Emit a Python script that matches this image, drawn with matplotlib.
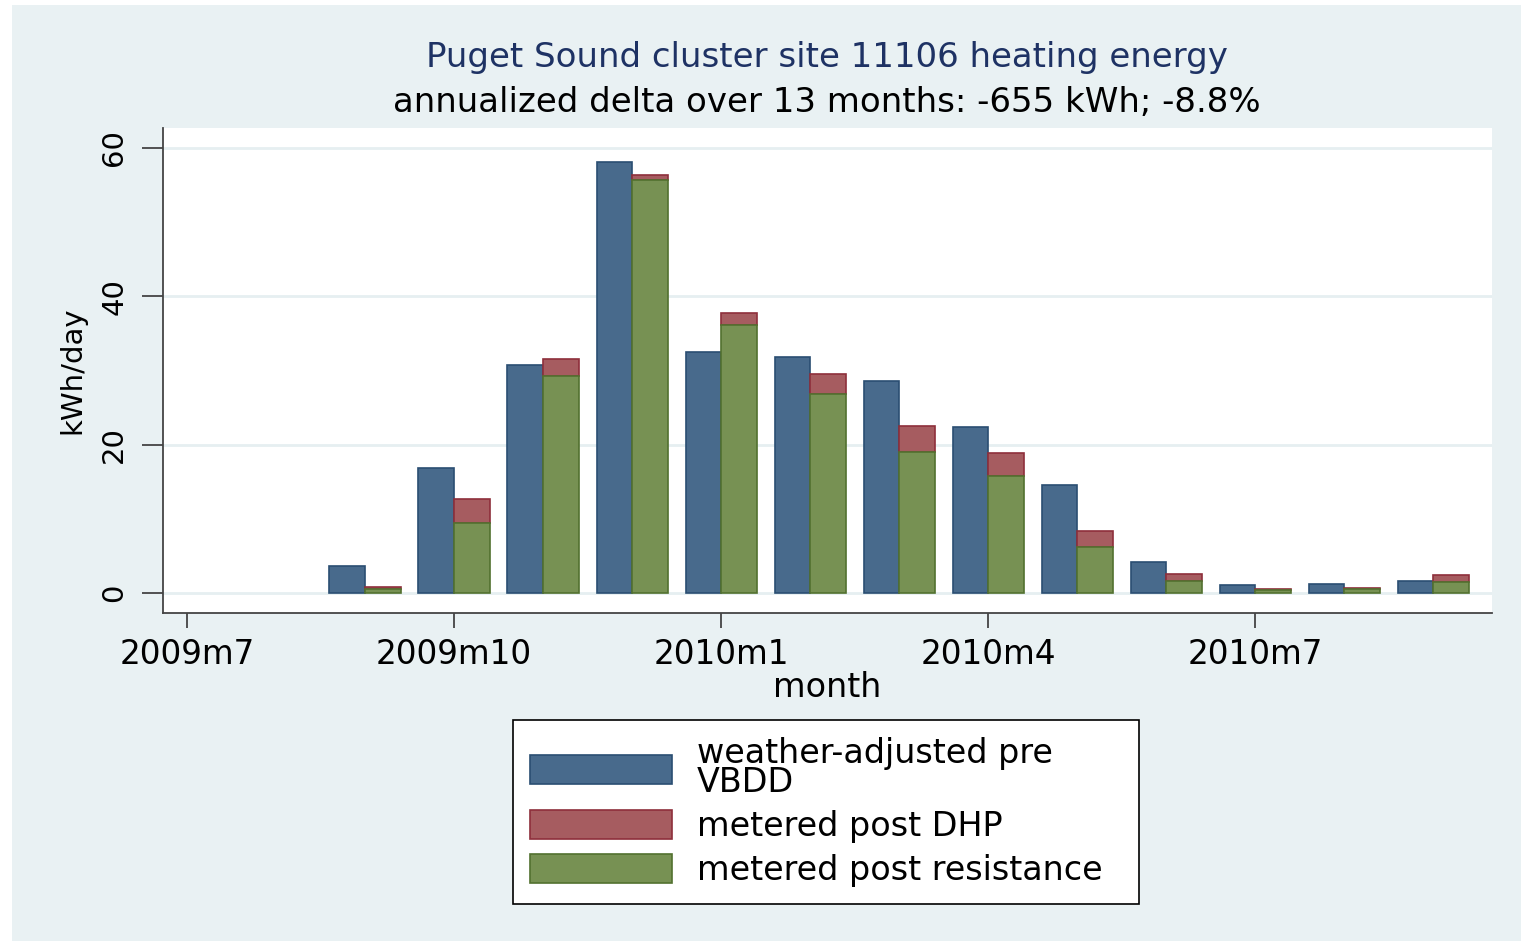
import matplotlib.pyplot as plt
import matplotlib.patches as mpatches
import numpy as np

plt.rcParams['font.family'] = ['DejaVu Sans']

# months counted from 2009m7 = 0
tick_pos = [0, 3, 6, 9, 12]
tick_labels = ['2009m7', '2009m10', '2010m1', '2010m4', '2010m7']
bar_months = [2, 3, 4, 5, 6, 7, 8, 9, 10, 11, 12, 13, 14]  # 2009m9 .. 2010m9

pre = [3.6, 16.8, 30.8, 58.1, 32.5, 31.8, 28.6, 22.4, 14.5, 4.2, 1.1, 1.25, 1.6]
post_total = [0.75, 12.7, 31.6, 56.4, 37.8, 29.5, 22.5, 18.9, 8.4, 2.6, 0.55, 0.7, 2.4]
post_res = [0.5, 9.4, 29.2, 55.7, 36.2, 26.8, 19.0, 15.8, 6.2, 1.6, 0.4, 0.5, 1.45]

bg = '#E9F1F3'
blue, blue_e = '#486A8C', '#2A4E72'
red, red_e = '#A65C60', '#8E2F3B'
green, green_e = '#779153', '#52712F'

fig = plt.figure(figsize=(15.21, 9.42), dpi=100)
fig.patches.append(mpatches.Rectangle((12/1521, 1-941/942), 1 - 12/1521, 936/942,
                                      transform=fig.transFigure, facecolor=bg,
                                      edgecolor='none', zorder=-5))
ax = fig.add_axes([163/1521, 1-613/942, (1492-163)/1521, (613-128)/942])
ax.set_facecolor('white')

x = np.array(bar_months)
post_dhp = np.array(post_total) - np.array(post_res)
ax.bar(x, pre, width=-0.4, align='edge', color=blue, edgecolor=blue_e, linewidth=1.2, zorder=3,
       label='weather-adjusted pre\nVBDD')
ax.bar(x, post_dhp, width=0.4, align='edge', bottom=post_res, color=red, edgecolor=red_e,
       linewidth=1.2, zorder=3, label='metered post DHP')
ax.bar(x, post_res, width=0.4, align='edge', color=green, edgecolor=green_e, linewidth=1.2,
       zorder=3, label='metered post resistance')

ax.set_xlim(-0.27, 14.66)
ax.set_ylim(-2.7, 62.7)
ax.set_yticks([0, 20, 40, 60])
ax.set_yticklabels(['0', '20', '40', '60'], rotation=90, va='center')
ax.set_xticks(tick_pos)
ax.set_xticklabels(tick_labels)
ax.grid(axis='y', color='#E6EFF1', linewidth=2, zorder=1)
for s in ['top', 'right']:
    ax.spines[s].set_visible(False)
for s in ['left', 'bottom']:
    ax.spines[s].set_color('#444444')
    ax.spines[s].set_linewidth(1.3)
ax.tick_params(axis='y', length=15, width=1.3, color='#444444', labelsize=21, pad=10)
ax.tick_params(axis='x', length=11, width=1.3, color='#444444', labelsize=23.5, pad=7)

ax.set_xlabel('month', fontsize=24, labelpad=0)
ax.set_ylabel('kWh/day', fontsize=21, labelpad=10)

fig.text(827/1521, 1-58/942, 'Puget Sound cluster site 11106 heating energy', ha='center',
         va='center', fontsize=24.5, color='#1E3264')
fig.text(827/1521, 1-103/942, 'annualized delta over 13 months: -655 kWh; -8.8%', ha='center',
         va='center', fontsize=24.5, color='black')

h, l = ax.get_legend_handles_labels()
leg = fig.legend(h, l, loc='center', mode='expand',
                 bbox_to_anchor=(513/1521, 1-904/942, (1139-513)/1521, 184/942), fontsize=24,
                 frameon=True, fancybox=False, edgecolor='black', facecolor='white',
                 framealpha=1, handlelength=4.25, handleheight=0.96, labelspacing=0.32,
                 borderpad=0.52, handletextpad=0.75, borderaxespad=0)
leg.get_frame().set_linewidth(1.2)
for t in leg.get_texts():
    t.set_linespacing(0.85)

fig.savefig('out.png', dpi=100)
